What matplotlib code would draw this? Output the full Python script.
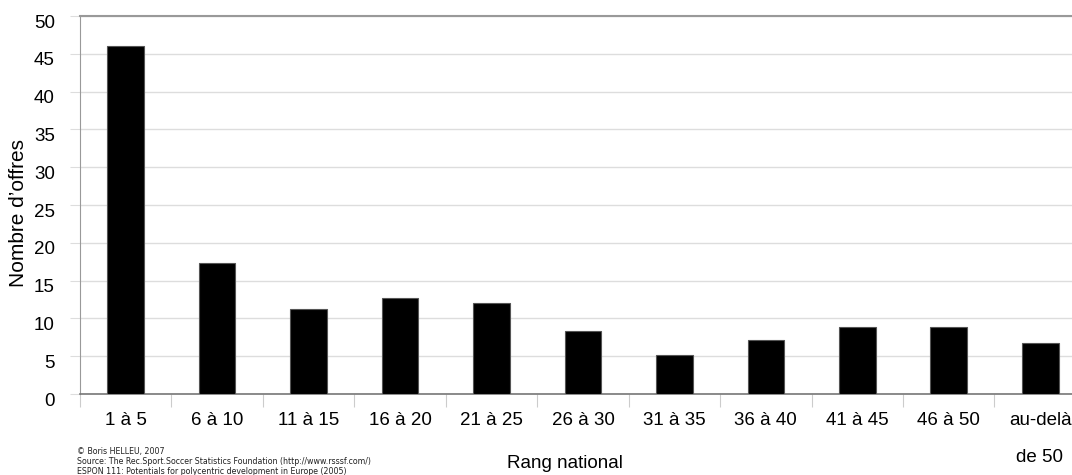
import numpy as np
import matplotlib.pyplot as plt
import matplotlib.transforms as mtransforms

# data
rangs = ['1 à 5', '6 à 10', '11 à 15', '16 à 20', '21 à 25', '26 à 30',
         '31 à 35', '36 à 40', '41 à 45', '46 à 50', 'au-delà']
offres = [46.0, 17.3, 11.2, 12.7, 12.0, 8.4, 5.2, 7.2, 8.9, 8.9, 6.7]
yticks = [0, 5, 10, 15, 20, 25, 30, 35, 40, 45, 50]

plt.rcParams['font.family'] = ['Liberation Sans', 'DejaVu Sans']

fig = plt.figure(figsize=(10.72, 4.75), dpi=100)
ax = fig.add_axes([0.0746, 0.1705, 0.9384, 0.7958])

index = np.arange(len(rangs))
ax.bar(index, offres, width=0.4, color='black', edgecolor='#555555',
       linewidth=0.8, zorder=3)

ax.set_xlim(-0.5, len(rangs) - 0.5)
ax.set_ylim(0, 50)
ax.set_yticks(yticks)
ax.yaxis.grid(True, color='#dddddd', linewidth=1, zorder=0)
ax.tick_params(axis='y', length=7, color='#dddddd', labelsize=13.5, pad=11)

# y labels sit a little below their gridlines in the original
shift = mtransforms.ScaledTranslation(0, -5 / 100, fig.dpi_scale_trans)
for lbl in ax.get_yticklabels():
    lbl.set_transform(lbl.get_transform() + shift)

# category labels between boundary ticks
ax.set_xticks(np.arange(len(rangs) + 1) - 0.5)
ax.set_xticklabels([])
ax.tick_params(axis='x', length=9, color='#cccccc')
ax.set_xticks(index, minor=True)
ax.set_xticklabels(rangs, minor=True, fontsize=13.5)
ax.tick_params(axis='x', which='minor', length=0, pad=13)

ax.spines['right'].set_visible(False)
ax.spines['top'].set_color('#999999')
ax.spines['top'].set_linewidth(1.5)
ax.spines['left'].set_color('#999999')
ax.spines['bottom'].set_color('#777777')
ax.spines['bottom'].set_linewidth(1.2)

fig.text(1040 / 1072, 1 - 457 / 475, 'de 50', fontsize=13.5,
         ha='center', va='center')
fig.text(565 / 1072, 1 - 463 / 475, 'Rang national', fontsize=13.5,
         ha='center', va='center')
fig.text(19 / 1072, 1 - 213 / 475, "Nombre d\u2019offres", fontsize=15,
         rotation=90, ha='center', va='center')

fig.text(77 / 1072, 1 - 447 / 475,
         '\u00a9 Boris HELLEU, 2007\n'
         'Source: The Rec.Sport.Soccer Statistics Foundation (http://www.rsssf.com/)\n'
         'ESPON 111: Potentials for polycentric development in Europe (2005)',
         fontsize=5.7, family='DejaVu Sans', color='#222222',
         ha='left', va='top', linespacing=1.15)

fig.savefig('out.png', dpi=100)
